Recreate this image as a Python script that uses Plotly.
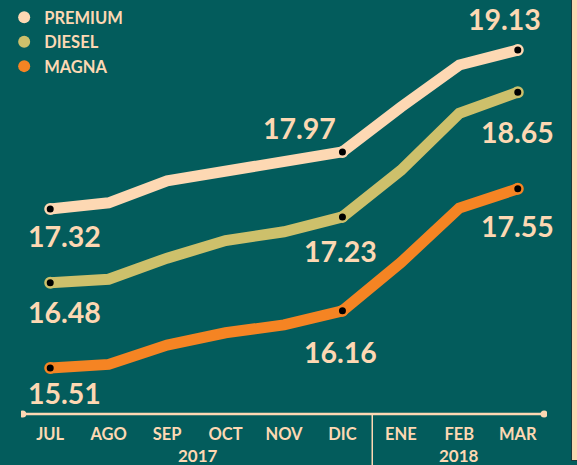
import plotly.graph_objects as go

# ---------------- data ----------------
months = ["JUL", "AGO", "SEP", "OCT", "NOV", "DIC", "ENE", "FEB", "MAR"]
years = ["2017", "2018"]
premium = [17.32, 17.39, 17.64, 17.75, 17.85, 17.97, 18.48, 18.96, 19.13]
diesel = [16.48, 16.52, 16.76, 16.96, 17.06, 17.23, 17.76, 18.41, 18.65]
magna = [15.51, 15.55, 15.77, 15.91, 16.00, 16.16, 16.71, 17.33, 17.55]
marked = [0, 5, 8]  # points with a black dot and a value label

# ---------------- style ----------------
BG = "#035c5c"
PEACH = "#fdd8b3"
OLIVE = "#cdc06b"
ORANGE = "#f58423"
FONT = "Lato"

idx = list(range(len(months)))
series = [("PREMIUM", premium, PEACH), ("DIESEL", diesel, OLIVE), ("MAGNA", magna, ORANGE)]
label_offsets = {
    "PREMIUM": {0: (14, -27), 5: (-43, 24), 8: (-13, 31)},
    "DIESEL": {0: (14, -29), 5: (-1.5, -34.5), 8: (0, -40)},
    "MAGNA": {0: (14, -25), 5: (-1.5, -41), 8: (0, -37.5)},
}

fig = go.Figure()
annotations = []
for name, vals, col in series:
    fig.add_trace(go.Scatter(x=idx, y=vals, mode="lines",
                             line=dict(color=col, width=11),
                             showlegend=False, hoverinfo="skip"))
    fig.add_trace(go.Scatter(x=[idx[i] for i in marked], y=[vals[i] for i in marked],
                             mode="markers",
                             marker=dict(size=9.5, color="black", line=dict(color=col, width=2.5)),
                             showlegend=False, hoverinfo="skip"))
    for i in marked:
        dx, dy = label_offsets[name][i]
        annotations.append(dict(x=idx[i], y=vals[i], xref="x", yref="y",
                                text=f"{vals[i]:.2f}", showarrow=False,
                                xanchor="center", yanchor="middle",
                                xshift=dx, yshift=dy,
                                font=dict(family=FONT, size=28.5, color=PEACH, weight="bold")))

# legend entries
for name, vals, col in series:
    fig.add_trace(go.Scatter(x=[None], y=[None], mode="markers", name=name,
                             marker=dict(size=12, color=col)))

# year labels
for yr, xpos in zip(years, [2.52, 7.0]):
    annotations.append(dict(x=xpos, y=0, xref="x", yref="paper", text=yr,
                            showarrow=False, xanchor="center", yanchor="middle",
                            yshift=-41,
                            font=dict(family=FONT, size=17, color=PEACH, weight="bold")))

W, H = 577, 465
ML, MR = 21, 30
PW = W - ML - MR


def px_to_paper_x(px):
    return (px - ML) / PW


# right-hand frame strip (drawn as an empty annotation box)
annotations.append(dict(xref="paper", yref="paper", x=px_to_paper_x(571), y=0.5,
                        xanchor="left", yanchor="middle", text=" ", showarrow=False,
                        width=6, height=H + 40, bgcolor=PEACH,
                        bordercolor="#1e3a3a", borderwidth=1, borderpad=0,
                        font=dict(size=4)))

shapes = [
    # baseline axis line
    dict(type="line", xref="x", yref="paper", x0=-0.47, x1=8.45, y0=0, y1=0,
         line=dict(color=PEACH, width=2.5), layer="above"),
    # end dots
    dict(type="circle", xref="x", yref="paper", xsizemode="pixel", ysizemode="pixel",
         xanchor=-0.47, yanchor=0, x0=-3.5, x1=3.5, y0=-3.5, y1=3.5,
         fillcolor=PEACH, line=dict(width=0)),
    dict(type="circle", xref="x", yref="paper", xsizemode="pixel", ysizemode="pixel",
         xanchor=8.45, yanchor=0, x0=-3.5, x1=3.5, y0=-3.5, y1=3.5,
         fillcolor=PEACH, line=dict(width=0)),
    # year separator
    dict(type="line", xref="x", yref="paper", ysizemode="pixel", yanchor=0,
         x0=5.51, x1=5.51, y0=0, y1=-60, line=dict(color=PEACH, width=1.5)),
]

fig.update_layout(
    width=W, height=H,
    margin=dict(l=ML, r=MR, t=0, b=51, pad=0),
    paper_bgcolor=BG, plot_bgcolor=BG,
    font=dict(family=FONT, color=PEACH),
    showlegend=True,
    legend=dict(x=-0.032, y=1.0, xanchor="left", yanchor="top",
                bgcolor="rgba(0,0,0,0)", borderwidth=0,
                font=dict(family=FONT, size=16.5, color=PEACH, weight="bold"),
                itemclick=False, itemdoubleclick=False),
    xaxis=dict(range=[-0.5, 8.5], tickvals=idx, ticktext=months,
               showgrid=False, zeroline=False, showline=False, ticks="",
               ticklabelstandoff=8,
               tickfont=dict(family=FONT, size=16.5, color=PEACH, weight="bold"),
               fixedrange=True),
    yaxis=dict(range=[14.985, 19.70], visible=False, showgrid=False,
               zeroline=False, fixedrange=True),
    annotations=annotations,
    shapes=shapes,
)

fig.write_html(
    "out.html",
    config={"displayModeBar": False},
    post_script=(
        "document.documentElement.style.overflow='hidden';"
        "document.body.style.margin='0';document.body.style.overflow='hidden';"
        "document.body.style.background='" + BG + "';"
    ),
)
